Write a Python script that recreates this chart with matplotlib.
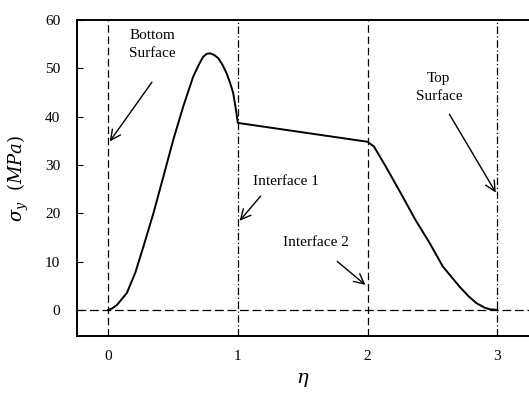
import matplotlib.pyplot as plt

# stress curve
eta = [0.0, 0.03, 0.067, 0.144, 0.208, 0.272, 0.349, 0.426, 0.502, 0.579, 0.656, 0.70, 0.733, 0.76, 0.785,
       0.815, 0.849, 0.88, 0.913, 0.94, 0.964, 0.985, 1.0,
       2.0, 2.05, 2.14, 2.27, 2.37, 2.48, 2.58, 2.71, 2.78, 2.84, 2.90, 2.94, 3.0]
sigma = [0.0, 0.3, 1.0, 3.5, 7.6, 13.1, 20.0, 27.6, 35.2, 42.1, 48.3, 50.8, 52.4, 53.0, 53.1,
         52.8, 52.1, 50.8, 49.0, 47.0, 44.9, 41.5, 38.7,
         34.8, 33.8, 29.7, 23.5, 18.6, 13.8, 9.0, 4.8, 2.8, 1.4, 0.5, 0.15, 0.0]

interfaces = [0, 1, 2, 3]
yticks = [0, 10, 20, 30, 40, 50, 60]

# (text, text position, arrow tail, arrow head)
notes = [
    ("Bottom\nSurface", (0.34, 55.0), (0.35, 47.6), (0.0, 34.4)),
    ("Interface 1", (1.37, 26.5), (1.19, 24.0), (1.0, 18.0)),
    ("Interface 2", (1.60, 13.9), (1.75, 10.4), (2.0, 4.8)),
    ("Top\nSurface", (2.55, 46.0), (2.62, 41.0), (3.0, 23.8)),
]

plt.rcParams['font.family'] = ['Liberation Serif', 'DejaVu Serif']
plt.rcParams['mathtext.fontset'] = 'dejavuserif'

fig = plt.figure(figsize=(5.29, 3.96), dpi=100)
ax = fig.add_axes([0.1456, 0.1515, 0.8544, 0.798])

for xi, ls in zip(interfaces, [(0, (6, 3)), (0, (6, 2, 1, 2)), (0, (6, 3)), (0, (6, 2, 1, 2))]):
    ax.axvline(xi, color='black', lw=0.9, linestyle=ls)
ax.axhline(0, color='black', lw=0.9, linestyle=(0, (7, 3)))

ax.plot(eta, sigma, color='black', lw=1.4)

for txt, tpos, tail, head in notes:
    ax.text(tpos[0], tpos[1], txt, ha='center', va='center', fontsize=11, linespacing=1.5)
    ax.annotate('', xy=head, xytext=tail,
                arrowprops=dict(arrowstyle='->', color='black', lw=1.0, mutation_scale=18))

ax.set_xlim(-0.24, 3.245)
ax.set_ylim(-5.4, 60)
ax.set_xticks(interfaces)
ax.set_yticks(yticks)
ax.tick_params(axis='y', direction='in', length=4, pad=12, labelsize=11)
ax.tick_params(axis='x', length=0, pad=10, labelsize=11)

ax.spines['right'].set_visible(False)
for s in ['left', 'bottom', 'top']:
    ax.spines[s].set_linewidth(1.4)

ax.set_xlabel(r'$\eta$', fontsize=14, labelpad=6)
ax.set_ylabel(r'$\sigma_y\ \ (MPa)$', fontsize=13, labelpad=10)

fig.savefig('out.png', dpi=100)
